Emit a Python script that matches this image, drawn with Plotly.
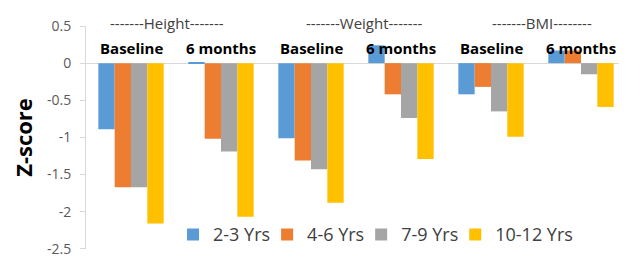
import plotly.graph_objects as go

categories = ["Height Baseline", "Height 6 months", "Weight Baseline",
              "Weight 6 months", "BMI Baseline", "BMI 6 months"]
cat_labels = ["Baseline", "6 months", "Baseline", "6 months", "Baseline", "6 months"]
group_labels = ["-------Height-------", "-------Weight-------", "-------BMI--------"]
series_names = ["2-3 Yrs", "4-6 Yrs", "7-9 Yrs", "10-12 Yrs"]
s_2_3 = [-0.89, 0.015, -1.01, 0.24, -0.42, 0.17]
s_4_6 = [-1.67, -1.02, -1.31, -0.42, -0.32, 0.17]
s_7_9 = [-1.67, -1.19, -1.43, -0.74, -0.65, -0.15]
s_10_12 = [-2.16, -2.07, -1.88, -1.29, -0.99, -0.59]
y_tickvals = [0.5, 0, -0.5, -1, -1.5, -2, -2.5]
y_ticktext = ["0.5", "0", "-0.5", "-1", "-1.5", "-2", "-2.5"]

colors = ["#5B9BD5", "#ED7D31", "#A5A5A5", "#FFC000"]
series = [s_2_3, s_4_6, s_7_9, s_10_12]

fig = go.Figure()
for name, vals, col in zip(series_names, series, colors):
    fig.add_trace(go.Bar(x=categories, y=vals, name=name, marker_color=col,
                         marker_line_width=0))

annotations = []
for c, lab in zip(categories, cat_labels):
    annotations.append(dict(x=c, y=0.90, xref="x", yref="paper", yanchor="middle",
                            text="<b>" + lab + "</b>", showarrow=False,
                            font=dict(family="Open Sans", size=15, color="#000000")))
group_x = [0.40, 2.59, 4.57]
for gx, gl in zip(group_x, group_labels):
    annotations.append(dict(x=gx, y=1.013, xref="x", yref="paper", yanchor="middle",
                            text=gl, showarrow=False,
                            font=dict(family="Open Sans", size=15, color="#404040")))

fig.update_layout(
    width=619, height=251,
    margin=dict(l=78, r=1, t=18, b=5),
    paper_bgcolor="white", plot_bgcolor="white",
    barmode="group", bargap=0.274, bargroupgap=0,
    font=dict(family="Open Sans", color="#595959"),
    showlegend=True,
    legend=dict(orientation="h", x=0.176, y=0.064, xanchor="left", yanchor="middle",
                font=dict(family="Open Sans", size=18, color="#404040"),
                indentation=-8, bgcolor="rgba(0,0,0,0)"),
    annotations=annotations,
)
fig.update_xaxes(showticklabels=False, showgrid=False, showline=False, ticks="",
                 zeroline=False)
fig.update_yaxes(range=[-2.503, 0.5], tickvals=y_tickvals, ticktext=y_ticktext,
                 showgrid=False, zeroline=True, zerolinecolor="#D9D9D9", zerolinewidth=1,
                 showline=True, linecolor="#D9D9D9", linewidth=1,
                 ticks="outside", ticklen=5, tickcolor="#D9D9D9",
                 tickfont=dict(family="Open Sans", size=14, color="#595959"),
                 ticklabelstandoff=6, ticklabeloverflow="allow",
                 title=dict(text="<b>Z-score</b>", standoff=14,
                            font=dict(family="Open Sans", size=22, color="#000000")))

fig.write_html("out.html")
